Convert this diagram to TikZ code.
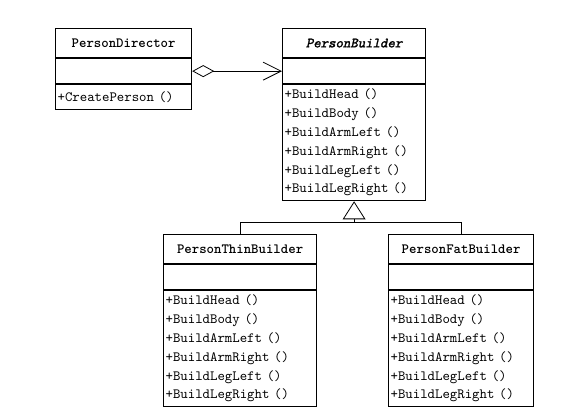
\documentclass[tikz,border=0pt]{standalone}
\usepackage{fontspec}
\newfontfamily\absfont[FakeSlant=0.22, FakeBold=1.6]{Latin Modern Mono}
\usetikzlibrary{arrows.meta, positioning}

\newcommand\buildops{+BuildHead ()\\+BuildBody ()\\+BuildArmLeft ()\\
  +BuildArmRight ()\\+BuildLegLeft ()\\+BuildLegRight ()}

\begin{document}
\begin{tikzpicture}[x=0.75pt, y=-0.75pt,
  every node/.style = {font=\fontsize{10.6}{14.1}\selectfont\ttfamily},
  cname/.style   = {draw, line width=0.9pt, minimum height=21.75pt, inner sep=0pt,
                    anchor=north west, font=\fontsize{10.6}{14.1}\selectfont\ttfamily\bfseries},
  cattr/.style   = {draw, line width=0.9pt, minimum height=18.5pt, inner sep=0pt},
  cops/.style    = {draw, line width=0.9pt, inner xsep=1.5pt, inner ysep=0pt,
                    align=left, minimum height=87pt},
  aggr/.style    = {line width=0.6pt,
                    {Diamond[open,length=16.5pt,width=9pt]}-{Straight Barb[length=13.5pt,width=13.5pt]}},
  inherit/.style = {line width=0.6pt, -{Triangle[open,length=13.5pt,width=17pt]}},
]
\useasboundingbox (0,0) rectangle (574,420);

% director
\node[cname, minimum width=102pt] (director) at (55,28) {PersonDirector};
\node[cattr, minimum width=102pt, below=0pt of director] (director-a) {};
\node[cops, text width=99pt, minimum height=18.75pt, below=0pt of director-a] (director-m)
  {+CreatePerson ()};

% abstract builder
\node[cname, minimum width=107.25pt, font=\fontsize{10.6}{14.1}\selectfont\absfont]
  (builder) at (282,28) {PersonBuilder};
\node[cattr, minimum width=107.25pt, below=0pt of builder] (builder-a) {};
\node[cops, text width=104.25pt, below=0pt of builder-a] (builder-m) {\buildops};

% concrete builders
\foreach \id/\cname/\cx/\cw in {thin/PersonThinBuilder/163/114.75, fat/PersonFatBuilder/388/108.75}{
  \node[cname, minimum width=\cw pt] (\id) at (\cx,234) {\cname};
  \node[cattr, minimum width=\cw pt, below=0pt of \id] (\id-a) {};
  \node[cops, text width=\cw pt-3pt, below=0pt of \id-a] (\id-m) {\buildops};
}

\draw[aggr] (director-a.east) -- (builder-a.west);

\coordinate (bus) at ([yshift=-15.75pt]builder-m.south);
\draw[inherit] (bus) -- (builder-m.south);
\draw[line width=0.6pt] (thin.north) |- (bus) -| (fat.north);

\end{tikzpicture}
\end{document}
